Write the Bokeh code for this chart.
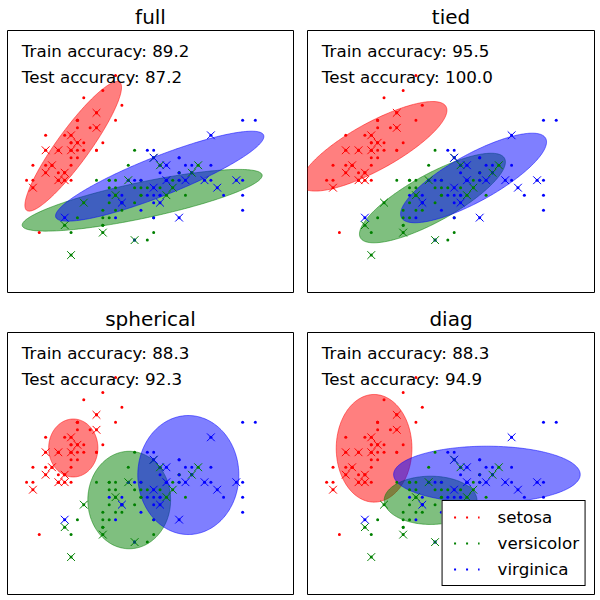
import numpy as np
from bokeh.plotting import figure
from bokeh.layouts import gridplot
from bokeh.models import Range1d, Label, Legend, LegendItem
from bokeh.embed import file_html
from bokeh.resources import INLINE

# ---- iris data: sepal length (x) and sepal width (y) ----
setosa_x = [5.1,4.9,4.7,4.6,5.0,5.4,4.6,5.0,4.4,4.9,5.4,4.8,4.8,4.3,5.8,5.7,5.4,5.1,5.7,5.1,
            5.4,5.1,4.6,5.1,4.8,5.0,5.0,5.2,5.2,4.7,4.8,5.4,5.2,5.5,4.9,5.0,5.5,4.9,4.4,5.1,
            5.0,4.5,4.4,5.0,5.1,4.8,5.1,4.6,5.3,5.0]
setosa_y = [3.5,3.0,3.2,3.1,3.6,3.9,3.4,3.4,2.9,3.1,3.7,3.4,3.0,3.0,4.0,4.4,3.9,3.5,3.8,3.8,
            3.4,3.7,3.6,3.3,3.4,3.0,3.4,3.5,3.4,3.2,3.1,3.4,4.1,4.2,3.1,3.2,3.5,3.6,3.0,3.4,
            3.5,2.3,3.2,3.5,3.8,3.0,3.8,3.2,3.7,3.3]
versicolor_x = [7.0,6.4,6.9,5.5,6.5,5.7,6.3,4.9,6.6,5.2,5.0,5.9,6.0,6.1,5.6,6.7,5.6,5.8,6.2,5.6,
                5.9,6.1,6.3,6.1,6.4,6.6,6.8,6.7,6.0,5.7,5.5,5.5,5.8,6.0,5.4,6.0,6.7,6.3,5.6,5.5,
                5.5,6.1,5.8,5.0,5.6,5.7,5.7,6.2,5.1,5.7]
versicolor_y = [3.2,3.2,3.1,2.3,2.8,2.8,3.3,2.4,2.9,2.7,2.0,3.0,2.2,2.9,2.9,3.1,3.0,2.7,2.2,2.5,
                3.2,2.8,2.5,2.8,2.9,3.0,2.8,3.0,2.9,2.6,2.4,2.4,2.7,2.7,3.0,3.4,3.1,2.3,3.0,2.5,
                2.6,3.0,2.6,2.3,2.7,3.0,2.9,2.9,2.5,2.8]
virginica_x = [6.3,5.8,7.1,6.3,6.5,7.6,4.9,7.3,6.7,7.2,6.5,6.4,6.8,5.7,5.8,6.4,6.5,7.7,7.7,6.0,
               6.9,5.6,7.7,6.3,6.7,7.2,6.2,6.1,6.4,7.2,7.4,7.9,6.4,6.3,6.1,7.7,6.3,6.4,6.0,6.9,
               6.7,6.9,5.8,6.8,6.7,6.7,6.3,6.5,6.2,5.9]
virginica_y = [3.3,2.7,3.0,2.9,3.0,3.0,2.5,2.9,2.5,3.6,3.2,2.7,3.0,2.5,2.8,3.2,3.0,3.8,2.6,2.2,
               3.2,2.8,2.8,2.7,3.3,3.2,2.8,3.0,2.8,3.0,2.8,3.8,2.8,2.8,2.6,3.0,3.4,3.1,3.0,3.1,
               3.1,3.1,2.7,3.2,3.3,3.0,2.5,3.0,3.4,3.0]
n_test = 13  # first 13 samples of each class are the test fold (crosses)

class_names = ["setosa", "versicolor", "virginica"]
class_colors = ["#ff0000", "#008000", "#0000ff"]
class_x = [setosa_x, versicolor_x, virginica_x]
class_y = [setosa_y, versicolor_y, virginica_y]

# ---- models ----
model_names = ["full", "tied", "spherical", "diag"]
train_acc = [89.2, 95.5, 88.3, 88.3]
test_acc = [87.2, 100.0, 92.3, 94.9]

# ellipse centers (per model, per class)
ell_cx = [[5.034, 6.119, 6.395],
          [5.042, 5.959, 6.604],
          [5.035, 5.915, 6.845],
          [5.044, 5.930, 6.813]]
ell_cy = [[3.453, 2.732, 3.054],
          [3.453, 2.762, 3.030],
          [3.457, 2.762, 3.096],
          [3.453, 2.758, 3.103]]
# ellipse shape matrices (var_x, cov_xy, var_y) in data units
ell_vxx = [[0.578, 3.565, 2.686],
           [1.309, 1.309, 1.309],
           [0.150, 0.424, 0.632],
           [0.352, 0.529, 2.140]]
ell_vxy = [[0.599, 0.625, 0.869],
           [0.550, 0.550, 0.550],
           [0.0, 0.0, 0.0],
           [0.0, 0.0, 0.0]]
ell_vyy = [[0.750, 0.170, 0.361],
           [0.358, 0.358, 0.358],
           [0.150, 0.424, 0.632],
           [0.517, 0.104, 0.143]]

x_lo, x_hi = 4.0, 8.5
y_lo, y_hi = 1.5, 5.0

FONT = "DejaVu Sans"

# layout: (width, height, left, right, top, bottom)
geoms = [(307, 302, 7, 14, 30, 10),
         (293, 302, 0, 6, 30, 10),
         (307, 298, 7, 14, 30, 6),
         (293, 298, 0, 6, 30, 6)]

t = np.linspace(0, 2 * np.pi, 240)
figs = []
for m, name in enumerate(model_names):
    w, h, bl, br, bt, bb = geoms[m]
    p = figure(width=w, height=h, min_border_left=bl, min_border_right=br,
               min_border_top=bt, min_border_bottom=bb,
               x_range=Range1d(x_lo, x_hi), y_range=Range1d(y_lo, y_hi),
               x_axis_type=None, y_axis_type=None,
               output_backend="svg", toolbar_location=None)
    p.outline_line_color = "black"
    p.outline_line_width = 1
    p.outline_line_alpha = 1.0
    p.background_fill_color = "white"
    p.border_fill_color = "white"
    p.title.text = name
    p.title.align = "center"
    p.title.text_font = FONT
    p.title.text_font_size = "20px"
    p.title.text_font_style = "normal"
    p.title.text_color = "black"
    p.title.standoff = 4

    # ellipses
    for k in range(3):
        C = np.array([[ell_vxx[m][k], ell_vxy[m][k]], [ell_vxy[m][k], ell_vyy[m][k]]])
        L = np.linalg.cholesky(C)
        pts = L @ np.vstack([np.cos(t), np.sin(t)])
        p.patch(ell_cx[m][k] + pts[0], ell_cy[m][k] + pts[1],
                fill_color=class_colors[k], fill_alpha=0.5,
                line_color=class_colors[k], line_alpha=0.5, line_width=1)
    # all data as small dots
    for k in range(3):
        p.scatter(class_x[k], class_y[k], marker="circle", size=3,
                  fill_color=class_colors[k], line_color=None)
    # test data as crosses
    for k in range(3):
        p.scatter(class_x[k][:n_test], class_y[k][:n_test], marker="x", size=11,
                  line_color=class_colors[k], line_width=1)

    tx = x_lo + 0.05 * (x_hi - x_lo)
    p.add_layout(Label(x=tx, y=y_lo + 0.9 * (y_hi - y_lo), y_offset=6,
                       text="Train accuracy: %.1f" % train_acc[m],
                       text_font=FONT, text_font_size="16.7px",
                       text_color="black", text_baseline="alphabetic"))
    p.add_layout(Label(x=tx, y=y_lo + 0.8 * (y_hi - y_lo), y_offset=6,
                       text="Test accuracy: %.1f" % test_acc[m],
                       text_font=FONT, text_font_size="16.7px",
                       text_color="black", text_baseline="alphabetic"))

    if m == 3:
        items = []
        for k in range(3):
            # legend-only renderer (no visible data) drawing three dots as the key
            r = p.line(x=[float("nan")], y=[float("nan")], line_color=class_colors[k],
                       line_width=2, line_dash="2 10", line_dash_offset=7)
            items.append(LegendItem(label=class_names[k], renderers=[r]))
        legend = Legend(items=items, location="bottom_right",
                        border_line_color="black", border_line_width=1, border_line_alpha=1.0,
                        background_fill_color="white", background_fill_alpha=1.0,
                        padding=6, spacing=6, margin=8,
                        glyph_width=31, glyph_height=20, label_height=20,
                        label_standoff=18, label_text_font=FONT,
                        label_text_font_size="16.7px", label_text_color="black")
        p.add_layout(legend)
    figs.append(p)

grid = gridplot([[figs[0], figs[1]], [figs[2], figs[3]]], toolbar_location=None)

open("out.html", "w").write(file_html(grid, INLINE))
